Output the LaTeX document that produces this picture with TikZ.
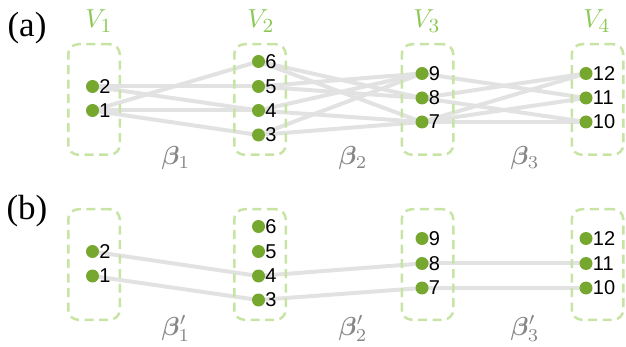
\RequirePackage{fix-cm}
\documentclass[tikz,border=0pt]{standalone}
\usepackage{fontspec}
\usepackage{bm}
\newfontfamily\numfont{Liberation Sans}
\newfontfamily\panelfont{Liberation Serif}
\definecolor{dotgreen}{RGB}{118,168,48}
\definecolor{boxgreen}{RGB}{200,228,165}
\definecolor{vgreen}{RGB}{140,200,85}
\definecolor{edgegray}{RGB}{226,226,226}
\definecolor{betagray}{RGB}{135,135,135}
\pgfdeclarelayer{bg}
\pgfdeclarelayer{mid}
\pgfsetlayers{bg,mid,main}
\tikzset{
  dot/.style={circle, fill=dotgreen, minimum size=13pt, inner sep=0pt,
    label distance=0.6pt,
    label={[numlbl]east:#1}},
  numlbl/.style={font=\fontsize{20}{22}\selectfont\numfont, inner sep=0pt, text=black},
  grp/.style={draw=boxgreen, line width=2.5pt, dash pattern=on 9pt off 5.5pt,
    rounded corners=10pt, minimum width=51.5pt, minimum height=110.5pt, inner sep=0pt},
  vlbl/.style={text=vgreen, inner sep=0pt, anchor=base},
  blbl/.style={text=betagray, inner sep=0pt, anchor=base},
  panel/.style={font=\fontsize{35}{38}\selectfont\panelfont, inner sep=0pt},
  edge/.style={draw=edgegray, line width=4pt}
}
\newcommand{\vtxt}[1]{\scalebox{2.6}{$V_{\mbox{\fontsize{7.7}{8}\selectfont #1}}$}}
\newcommand{\btxt}[2]{\scalebox{2.6}{$\bm{\beta}#1_{#2}$}}
\begin{document}
\begin{tikzpicture}[x=1pt, y=-1pt]
\useasboundingbox (0,0) rectangle (626,347);
% panel labels
\node[panel] (pa) at (27,28) {(a)};
\node[panel] (pb) at (27,211) {(b)};
% group labels
\node[vlbl] (v1) at (99,28) {\vtxt{1}};
\node[vlbl] (v2) at (261,28) {\vtxt{2}};
\node[vlbl] (v3) at (427,28) {\vtxt{3}};
\node[vlbl] (v4) at (597,28) {\vtxt{4}};
% boxes
\begin{pgfonlayer}{mid}
\node[grp] (A1) at (94,99.5) {};
\node[grp] (A2) at (260,99.5) {};
\node[grp] (A3) at (427.5,99.5) {};
\node[grp] (A4) at (597.5,99.5) {};
\node[grp] (B1) at (94,264.5) {};
\node[grp] (B2) at (260,264.5) {};
\node[grp] (B3) at (427.5,264.5) {};
\node[grp] (B4) at (597.5,264.5) {};
\end{pgfonlayer}
% dots (a)
\node[dot=2] (a2) at (92.5,86.5) {};
\node[dot=1] (a1) at (92.5,110.5) {};
\node[dot=6] (a6) at (258.5,61.5) {};
\node[dot=5] (a5) at (258.5,86.5) {};
\node[dot=4] (a4) at (258.5,110.5) {};
\node[dot=3] (a3) at (258.5,135) {};
\node[dot=9] (a9) at (422,73.5) {};
\node[dot=8] (a8) at (422,98) {};
\node[dot=7] (a7) at (422,122) {};
\node[dot=12] (a12) at (586,73.5) {};
\node[dot=11] (a11) at (586,98) {};
\node[dot=10] (a10) at (586,122) {};
% dots (b)
\node[dot=2] (b2) at (92.5,251.5) {};
\node[dot=1] (b1) at (92.5,276) {};
\node[dot=6] (b6) at (258.5,226.5) {};
\node[dot=5] (b5) at (258.5,251.5) {};
\node[dot=4] (b4) at (258.5,276) {};
\node[dot=3] (b3) at (258.5,300) {};
\node[dot=9] (b9) at (422,238.5) {};
\node[dot=8] (b8) at (422,263.5) {};
\node[dot=7] (b7) at (422,288) {};
\node[dot=12] (b12) at (586,238.5) {};
\node[dot=11] (b11) at (586,263.5) {};
\node[dot=10] (b10) at (586,288) {};
% edges
\begin{pgfonlayer}{bg}
\foreach \u/\v in {a2/a5,a2/a4,a1/a6,a1/a4,a1/a3,
  a6/a8,a6/a7,a5/a9,a5/a8,a4/a9,a4/a7,a3/a9,a3/a7,
  a9/a11,a8/a12,a8/a10,a7/a12,a7/a11,a7/a10,
  b2/b4,b1/b3,b4/b8,b3/b7,b8/b11,b7/b10}
  \draw[edge] (\u.center) -- (\v.center);
\end{pgfonlayer}
% beta labels
\node[blbl] (be1) at (176,165) {\btxt{}{1}};
\node[blbl] (be2) at (353,165) {\btxt{}{2}};
\node[blbl] (be3) at (525,165) {\btxt{}{3}};
\node[blbl] (bp1) at (176,335) {\btxt{'}{1}};
\node[blbl] (bp2) at (353,335) {\btxt{'}{2}};
\node[blbl] (bp3) at (525,335) {\btxt{'}{3}};
\end{tikzpicture}
\end{document}
